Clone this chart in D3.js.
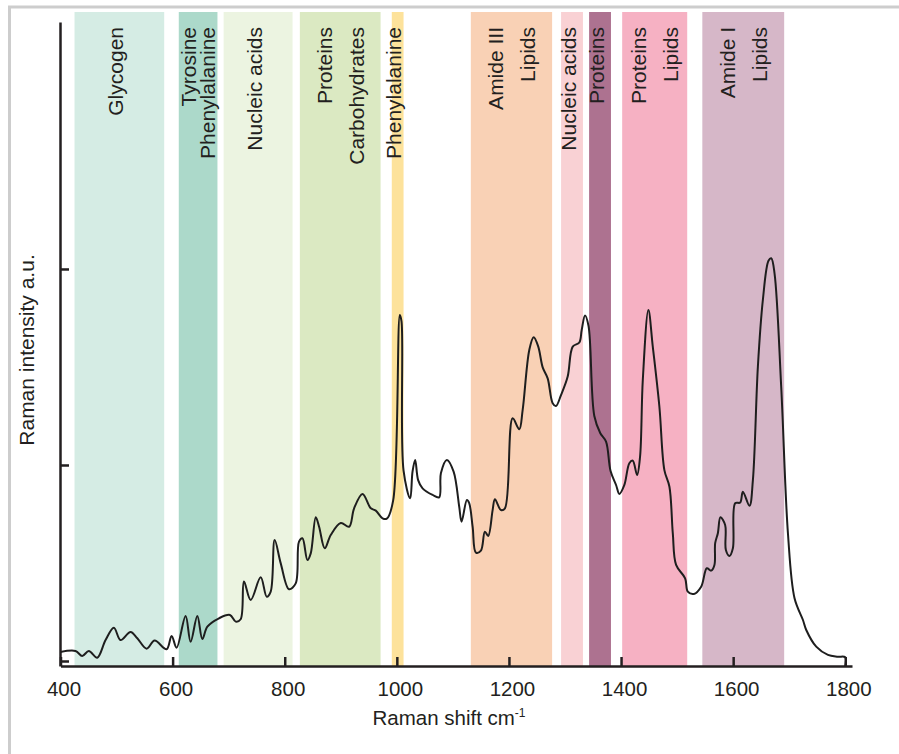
<!DOCTYPE html>
<html>
<head>
<meta charset="utf-8">
<script src="https://cdn.jsdelivr.net/npm/d3@7"></script>
<style>
  body { margin: 0; background: #fff; }
  text { font-family: "Liberation Sans", Arial, sans-serif; fill: #231f20; }
</style>
</head>
<body>
<div id="chart"></div>
<script>
// band regions (cm-1)
var bandStart = [425, 611, 691, 827, 991, 1132, 1293, 1343, 1402, 1545];
var bandEnd   = [585, 680, 814, 971, 1012, 1277, 1332, 1382, 1518, 1691];
var bandLabels = [
  ["Glycogen"],
  ["Tyrosine", "Phenylalanine"],
  ["Nucleic acids"],
  ["Proteins", "Carbohydrates"],
  ["Phenylalanine"],
  ["Amide III", "Lipids"],
  ["Nucleic acids"],
  ["Proteins"],
  ["Proteins", "Lipids"],
  ["Amide I", "Lipids"]
];
var bandColors = ["#d5ece4", "#acd9ca", "#ecf4e1", "#dbe9c2", "#fde29b",
                  "#f9d1b5", "#f9d1d4", "#ad7290", "#f6b1c3", "#d6b7c8"];

// spectrum
var shiftValues = [400, 426.8, 438.8, 450.5, 465.5, 480.4, 495.2, 507.1, 525, 537,
  553.6, 567.9, 589.3, 598.2, 607.1, 623.2, 632.1, 644.1, 653, 662,
  682.7, 702.3, 712.5, 721.4, 727.3, 739.3, 757.1, 767.9, 775, 782.1,
  792.9, 807.7, 819.6, 825.5, 831.6, 840.5, 846.4, 855.4, 861.3, 871.4,
  882.1, 900, 914.8, 923.8, 938.8, 953.6, 962.5, 974.5, 982.1, 993.4,
  1005.4, 1008.4, 1012, 1023.8, 1028, 1032.7, 1038, 1045.9, 1063.8, 1075.5,
  1078.6, 1089.3, 1101.3, 1111.3, 1115.5, 1125, 1129.1, 1135.2, 1141.1, 1150,
  1157.1, 1163, 1170.9, 1175, 1185.7, 1192.9, 1206.6, 1218.4, 1224.5, 1236.3,
  1244.1, 1252.3, 1260.2, 1269.1, 1278, 1283.9, 1292.9, 1304.8, 1313.8, 1325.5,
  1329.8, 1335.7, 1342, 1352.3, 1363, 1373.2, 1381.3, 1391.1, 1397, 1405.9,
  1414.8, 1420.9, 1428.6, 1433.9, 1438.8, 1448.8, 1456.6, 1468.4, 1477.3, 1486.3,
  1492.3, 1498.2, 1514.3, 1519.1, 1529.8, 1542.9, 1553, 1560.7, 1566.6, 1567.9,
  1572.7, 1577.3, 1585.7, 1587, 1593.4, 1599.5, 1603.6, 1612.5, 1617.3, 1629.1,
  1635.2, 1644.1, 1653, 1663, 1667.9, 1673.8, 1685.7, 1697.7, 1709.5, 1724.5,
  1730.4, 1748.2, 1769.1, 1786.9, 1800, 1800];
var intensityValues = [0.046, 0.051, 0.026, 0.051, 0.017, 0.107, 0.170, 0.107, 0.148, 0.116,
  0.063, 0.104, 0.060, 0.128, 0.068, 0.230, 0.098, 0.230, 0.112, 0.175,
  0.218, 0.235, 0.201, 0.213, 0.405, 0.311, 0.427, 0.328, 0.354, 0.617,
  0.498, 0.366, 0.396, 0.609, 0.626, 0.515, 0.549, 0.733, 0.685, 0.575,
  0.643, 0.704, 0.685, 0.779, 0.852, 0.779, 0.767, 0.728, 0.726, 0.818,
  1.765, 1.731, 0.971, 0.830, 0.966, 1.026, 0.923, 0.881, 0.847, 0.835,
  0.958, 1.026, 0.966, 0.787, 0.711, 0.821, 0.805, 0.685, 0.553, 0.563,
  0.660, 0.638, 0.770, 0.825, 0.770, 0.779, 1.238, 1.182, 1.281, 1.587,
  1.652, 1.604, 1.498, 1.442, 1.315, 1.301, 1.357, 1.451, 1.604, 1.625,
  1.689, 1.763, 1.709, 1.250, 1.162, 1.119, 0.969, 0.898, 0.852, 0.898,
  1.009, 1.022, 0.949, 1.042, 1.434, 1.791, 1.604, 1.297, 0.974, 0.889,
  0.652, 0.490, 0.422, 0.354, 0.342, 0.379, 0.473, 0.461, 0.490, 0.601,
  0.652, 0.733, 0.694, 0.566, 0.536, 0.575, 0.805, 0.808, 0.864, 0.792,
  0.923, 1.502, 1.842, 2.042, 2.055, 1.978, 1.399, 0.652, 0.320, 0.209,
  0.158, 0.073, 0.031, 0.022, 0.019, -0.026];

var xTicks = [400, 600, 800, 1000, 1200, 1400, 1600, 1800];
var yTicks = [0, 1, 2];

var w = 899, h = 754;

var svg = d3.select("#chart").append("svg")
    .attr("width", w)
    .attr("height", h);

// frame
svg.append("rect")
    .attr("x", 9.5).attr("y", 7)
    .attr("width", 1000).attr("height", 1000)
    .attr("fill", "none")
    .attr("stroke", "#cdcdcd")
    .attr("stroke-width", 3);

var x = d3.scaleLinear().domain([400, 1812]).range([60.5, 852]);
var y = d3.scaleLinear().domain([-0.0255, 3.26]).range([666, 22]);

// bands
svg.selectAll("rect.band")
    .data(bandStart)
    .enter().append("rect")
    .attr("class", "band")
    .attr("x", function (d) { return x(d); })
    .attr("y", 12)
    .attr("width", function (d, i) { return x(bandEnd[i]) - x(d); })
    .attr("height", 666 - 12)
    .attr("fill", function (d, i) { return bandColors[i]; });

// band labels
bandLabels.forEach(function (lines, i) {
  var x0 = x(bandStart[i]), x1 = x(bandEnd[i]);
  var cx = (x0 + x1) / 2;
  var gap = Math.min(32, (x1 - x0) * 0.5);
  lines.forEach(function (t, j) {
    var lx = cx + (j - (lines.length - 1) / 2) * gap;
    if (lines.length == 1) lx -= 4;
    svg.append("text")
        .attr("transform", "translate(" + lx + ",27) rotate(-90)")
        .attr("text-anchor", "end")
        .attr("dominant-baseline", "central")
        .style("font-size", "21px")
        .text(t);
  });
});

// spectrum
var line = d3.line()
    .x(function (d, i) { return x(shiftValues[i]); })
    .y(function (d) { return y(d); })
    .curve(d3.curveCatmullRom.alpha(0.5));

svg.append("path")
    .datum(intensityValues)
    .attr("d", line)
    .attr("fill", "none")
    .attr("stroke", "#1e1e1e")
    .attr("stroke-width", 2)
    .attr("stroke-linejoin", "round");

// axes
var gx = svg.append("g")
    .attr("transform", "translate(0,666)")
    .call(d3.axisBottom(x).tickValues(xTicks).tickFormat(d3.format("d"))
      .tickSizeInner(-9).tickSizeOuter(0).tickPadding(15));

var gy = svg.append("g")
    .attr("transform", "translate(60,0)")
    .call(d3.axisLeft(y).tickValues(yTicks).tickSizeInner(-9).tickSizeOuter(0).tickFormat(""));

svg.selectAll(".domain, .tick line")
    .attr("stroke", "#231f20")
    .attr("stroke-width", 2.5);

gx.selectAll("text")
    .attr("dx", 3)
    .style("font-size", "20.5px")
    .style("font-family", "'Liberation Sans', Arial, sans-serif")
    .attr("fill", "#231f20");

// axis titles
var xt = svg.append("text")
    .attr("x", 449)
    .attr("y", 725)
    .attr("text-anchor", "middle")
    .style("font-size", "20.5px")
    .text("Raman shift cm");
xt.append("tspan")
    .attr("dy", -8)
    .style("font-size", "12px")
    .text("-1");

svg.append("text")
    .attr("transform", "translate(26,350) rotate(-90)")
    .attr("text-anchor", "middle")
    .attr("dominant-baseline", "central")
    .style("font-size", "21px")
    .text("Raman intensity a.u.");
</script>
</body>
</html>
